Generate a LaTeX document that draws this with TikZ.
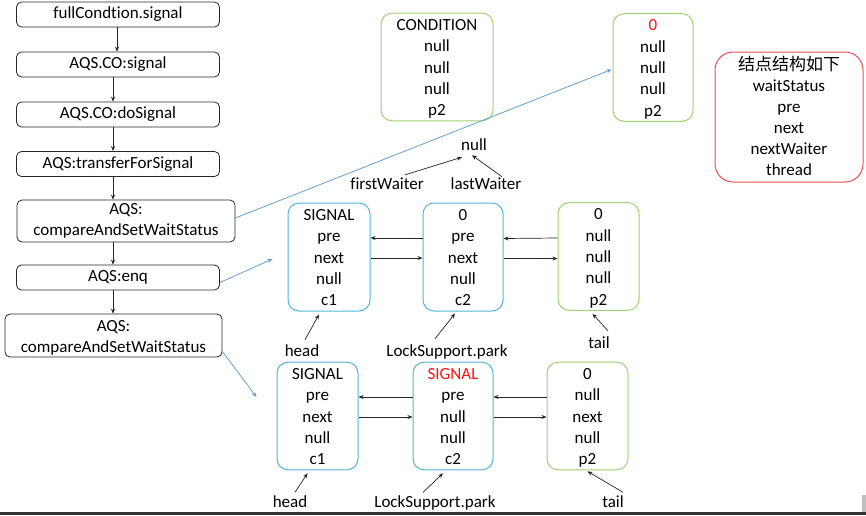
\documentclass[tikz,border=0pt]{standalone}
\usepackage{fontspec}
\setmainfont{Carlito}[Ligatures=NoCommon]
\newfontfamily\cjk{Noto Sans CJK SC}
\usetikzlibrary{arrows.meta}
\definecolor{grn}{RGB}{160,210,115}
\definecolor{blu}{RGB}{80,182,222}
\definecolor{rdb}{RGB}{232,80,80}
\definecolor{lnk}{RGB}{100,160,215}
\definecolor{rtx}{RGB}{255,20,20}
\newcommand{\topst}{\rule{0pt}{16pt}}
\newcommand{\botst}{\rule[-4pt]{0pt}{4pt}}
\tikzset{
  flow/.style={draw=black!85, line width=0.8pt, rounded corners=5pt, minimum width=203pt, minimum height=25pt, align=center, inner sep=1pt},
  rec/.style={line width=1pt, rounded corners=11pt, align=center, inner sep=1pt},
  gnode/.style={rec, draw=grn},
  bnode/.style={rec, draw=blu},
  lab/.style={inner sep=1pt, text height=12pt, text depth=4pt},
  arr/.style={-{Stealth[length=5pt,width=4pt]}, line width=0.7pt, black!85},
  barr/.style={-{Stealth[length=5pt,width=4pt]}, line width=0.8pt, lnk},
}
\begin{document}
\begin{tikzpicture}[x=1pt,y=-1pt,font=\fontsize{17}{21.4}\selectfont]
\useasboundingbox (0,0) rectangle (866,515);
\fill[white] (0,0) rectangle (866,515);
% flowchart
\node[flow] (b1) at (118,14.5) {fullCondtion.signal};
\node[flow] (b2) at (118,64.5) {AQS.CO:signal};
\node[flow] (b3) at (118,114.5) {AQS.CO:doSignal};
\node[flow] (b4) at (118,164) {AQS:transferForSignal};
\node[flow, minimum width=218pt, minimum height=42pt] (b5) at (126,221) {AQS:\\compareAndSetWaitStatus};
\node[flow] (b6) at (118,277.5) {AQS:enq};
\node[flow, minimum width=217pt, minimum height=43pt] (b7) at (113.5,335.5) {\topst AQS:\\compareAndSetWaitStatus};
\draw[arr] ([xshift=-1pt]b1.south) -- ([xshift=-1pt]b1.south |- b2.north);
\draw[arr] ([xshift=-5pt]b2.south) -- ([xshift=-5pt]b2.south |- b3.north);
\draw[arr] ([xshift=-5pt]b3.south) -- ([xshift=-5pt]b3.south |- b4.north);
\draw[arr] ([xshift=-5pt]b4.south) -- ([xshift=-5pt]b4.south |- b5.north);
\draw[arr] ([xshift=-5pt]b4.south |- b5.south) -- ([xshift=-5pt]b6.north);
\draw[arr] ([xshift=-5pt]b6.south) -- ([xshift=-5pt]b6.south |- b7.north);
% top nodes
\node[gnode, minimum width=112pt, minimum height=106pt] (c0) at (437,67) {\topst CONDITION\\null\\null\\null\\p2\botst};
\node[gnode, minimum width=80pt, minimum height=107pt] (t0) at (653,67.5) {\topst{\color{rtx}0}\\null\\null\\null\\p2\botst};
\node[rec, draw=rdb, rounded corners=18pt, minimum width=148pt, minimum height=130pt, font=\fontsize{17}{21}\selectfont] (lg) at (789,117) {\topst{\cjk 结点结构如下}\\waitStatus\\pre\\next\\nextWaiter\\thread\botst};
\node[lab] (nl) at (474,146) {null};
\node[lab] (fw) at (387,185) {firstWaiter};
\node[lab] (lw) at (486,185) {lastWaiter};
\draw[arr] ([xshift=18pt,yshift=1pt]fw.north) -- ([xshift=-12pt,yshift=-2pt]nl.south);
\draw[arr] ([xshift=16pt,yshift=-1pt]lw.north) -- ([xshift=-2pt,yshift=0pt]nl.south);
% middle row
\node[bnode, minimum width=82pt, minimum height=108pt] (M1) at (329,257) {\topst SIGNAL\\pre\\next\\null\\c1\botst};
\node[bnode, minimum width=80pt, minimum height=108pt] (M2) at (463,257) {\topst 0\\pre\\next\\null\\c2\botst};
\node[gnode, minimum width=81pt, minimum height=107pt] (M3) at (598.5,256.5) {\topst 0\\null\\null\\null\\p2\botst};
\draw[arr] ([yshift=19pt]M2.west) -- ([yshift=19pt]M1.east);
\draw[arr] ([yshift=-1pt]M1.east) -- ([yshift=-1pt]M2.west);
\draw[arr] ([yshift=18.5pt]M3.west) -- ([yshift=18.5pt]M2.west -| M2.east);
\draw[arr] ([yshift=-1.5pt]M2.east) -- ([yshift=-1.5pt]M2.east -| M3.west);
\node[lab] (h1) at (302,352) {head};
\node[lab] (p1) at (447,352) {LockSupport.park};
\node[lab] (t1) at (599,344) {tail};
\draw[arr] ([xshift=3pt,yshift=3pt]h1.north) -- ([xshift=-10pt,yshift=-3pt]M1.south);
\draw[arr] ([xshift=-12pt,yshift=4pt]p1.north) -- ([xshift=-8pt,yshift=-2pt]M2.south);
\draw[arr] ([xshift=9pt,yshift=4pt]t1.north) -- ([xshift=-6pt,yshift=-3pt]M3.south);
% bottom row
\node[bnode, minimum width=81pt, minimum height=106pt] (B1) at (317.5,416) {\topst SIGNAL\\pre\\next\\null\\c1\botst};
\node[bnode, minimum width=80pt, minimum height=106pt] (B2) at (453,416) {\topst{\color{rtx}SIGNAL}\\pre\\null\\null\\c2\botst};
\node[gnode, minimum width=81pt, minimum height=106pt] (B3) at (587.5,416) {\topst 0\\null\\next\\null\\p2\botst};
\draw[arr] ([yshift=19pt]B2.west) -- ([yshift=19pt]B1.east);
\draw[arr] ([yshift=-1pt]B1.east) -- ([yshift=-1pt]B2.west);
\draw[arr] ([yshift=19pt]B3.west) -- ([yshift=19pt]B3.west -| B2.east);
\draw[arr] ([yshift=-1pt]B2.east) -- ([yshift=-1pt]B2.east -| B3.west);
\node[lab] (h2) at (290,503.5) {head};
\node[lab] (p2) at (435,503.5) {LockSupport.park};
\node[lab] (t2) at (613,503.5) {tail};
\draw[arr] ([xshift=5pt,yshift=2pt]h2.north) -- ([xshift=-10pt,yshift=-3pt]B1.south);
\draw[arr] ([xshift=-12pt,yshift=2pt]p2.north) -- ([xshift=-10pt,yshift=-3pt]B2.south);
\draw[arr] ([xshift=10pt,yshift=2pt]t2.north) -- ([yshift=-1pt]B3.south);
% blue connectors
\draw[barr] ([yshift=3pt]b5.east) -- ([xshift=-1pt,yshift=-2pt]t0.west);
\draw[barr] ([yshift=-5pt]b6.east) -- ([xshift=-15pt,yshift=-2pt]M1.west);
\draw[barr] ([yshift=-16pt]b7.east) -- ([xshift=-20pt,yshift=19pt]B1.west);
% screen edge
\fill[black!80] (0,511.5) rectangle (866,515);
\fill[black!25] (862,495) rectangle (866,511.5);
\end{tikzpicture}
\end{document}
